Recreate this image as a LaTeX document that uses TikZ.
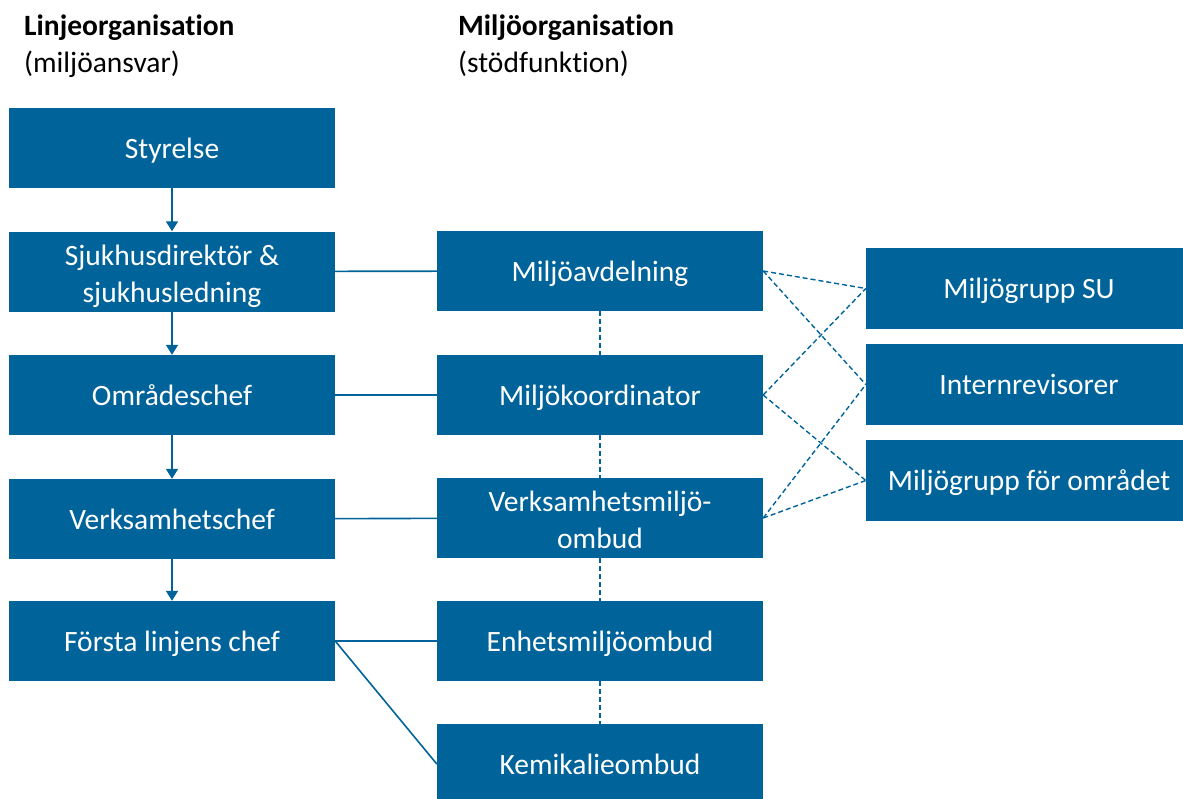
\documentclass[tikz,border=0pt]{standalone}
\usepackage{fontspec}
\setmainfont{Carlito}[Ligatures=NoCommon]
\usetikzlibrary{positioning,arrows.meta}
\definecolor{subla}{RGB}{0,99,154}
\tikzset{box/.style={fill=subla,text=white,minimum width=326pt,minimum height=80pt,inner sep=0pt,text height=27pt,text depth=7pt,font=\fontsize{29.5}{37}\selectfont}}
\tikzset{tvarad/.style={text height={},text depth={}}}
\tikzset{rubrik/.style={anchor=base west,inner sep=0pt,font=\fontsize{29.5}{35}\selectfont}}
\tikzset{linje/.style={subla,line width=1.6pt}}
\tikzset{pil/.style={linje,-{Triangle[width=12pt,length=10pt]}}}
\tikzset{streck/.style={subla,line width=1.4pt,dash pattern=on 5pt off 3pt}}
\newcommand{\tvarader}[2]{\raisebox{-5pt}[\height][\depth]{\begin{tabular}{@{}c@{}}#1\\#2\end{tabular}}}

\begin{document}
\begin{tikzpicture}[x=1pt,y=-1pt]
  \useasboundingbox (0,0) rectangle (1183,798);
  % Rubriker
  \node[rubrik] (lrub) at (24,35) {\bfseries Linjeorganisation};
  \node[rubrik] (lund) at (24,72) {(milj\"oansvar)};
  \node[rubrik] (mrub) at (458,35) {\bfseries Milj\"oorganisation};
  \node[rubrik] (mund) at (458,72) {(st\"odfunktion)};

  % Linjeorganisation
  \node[box] (styr) at (172,148) {Styrelse};
  \node[box,tvarad] (dir) at (172,271.5) {\tvarader{Sjukhusdirekt\"or \&}{sjukhusledning}};
  \node[box] (omr) at (172,395) {Omr\aa deschef};
  \node[box] (verk) at (172,519) {Verksamhetschef};
  \node[box] (forsta) at (172,641) {F\"orsta linjens chef};

  % Miljoorganisation
  \node[box] (mavd) at (600,271) {Milj\"oavdelning};
  \node[box] (mkoord) at (600,395) {Milj\"okoordinator};
  \node[box,tvarad] (vmo) at (600,518) {\tvarader{Verksamhetsmilj\"o-}{ombud}};
  \node[box] (emo) at (600,641) {Enhetsmilj\"oombud};
  \node[box] (kem) at (600,764) {Kemikalieombud};

  % Stodgrupper
  \node[box,minimum height=81pt] (mgsu) at (1029,288.5) {Milj\"ogrupp SU};
  \node[box,minimum height=81pt] (intrev) at (1029,384.5) {Internrevisorer};
  \node[box,minimum height=81pt] (mgomr) at (1029,480.5) {Milj\"ogrupp f\"or omr\aa det};

  % Pilar i linjen
  \draw[pil] (styr) -- (dir);
  \draw[pil] (dir) -- (omr);
  \draw[pil] (omr) -- (verk);
  \draw[pil] (verk) -- (forsta);

  % Linje till miljoorganisation
  \draw[linje] (dir) -- (mavd);
  \draw[linje] (omr) -- (mkoord);
  \draw[linje] (verk) -- (vmo);
  \draw[linje] (forsta) -- (emo);
  \draw[linje] (forsta.east) -- (kem.west);

  % Streckade kopplingar
  \draw[streck] (mavd) -- (mkoord);
  \draw[streck] (mkoord) -- (vmo);
  \draw[streck] (vmo) -- (emo);
  \draw[streck] (emo) -- (kem);
  \draw[streck] (mavd.east) -- (mgsu.west);
  \draw[streck] (mavd.east) -- (intrev.west);
  \draw[streck] (mkoord.east) -- (mgsu.west);
  \draw[streck] (mkoord.east) -- (mgomr.west);
  \draw[streck] (vmo.east) -- (intrev.west);
  \draw[streck] (vmo.east) -- (mgomr.west);
\end{tikzpicture}
\end{document}
